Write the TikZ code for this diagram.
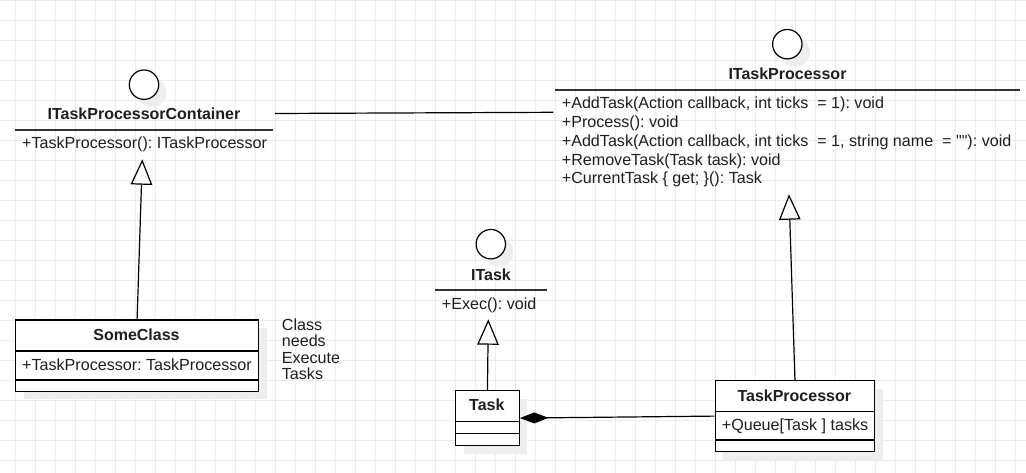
\documentclass[tikz,border=0pt]{standalone}
\usepackage{fontspec}
\setmainfont{Liberation Sans}
\usetikzlibrary{arrows.meta,shadows}
\definecolor{gridc}{RGB}{236,236,236}
\definecolor{shad}{RGB}{238,238,238}
\definecolor{txt}{RGB}{30,30,30}
\definecolor{hdrc}{RGB}{50,50,50}
\frenchspacing
\begin{document}
\begin{tikzpicture}[x=1pt,y=-1pt,
  lw/.style={line width=1.2pt, draw=black},
  shadowed/.style={drop shadow={shadow xshift=8pt, shadow yshift=-8pt, fill=shad, opacity=1}},
  classbox/.style={lw, fill=white, inner sep=0pt, anchor=north west, shadowed},
  circ/.style={circle, lw, fill=white, inner sep=0pt, minimum size=29.4pt, shadowed},
  hdr/.style={line width=1.5pt, draw=hdrc},
  txtbase/.style={inner sep=0pt, text=txt, font=\fontsize{16.1}{19}\selectfont},
  ttl/.style={txtbase, font=\fontsize{16}{19}\selectfont\bfseries, anchor=base},
  attr/.style={txtbase, anchor=base west},
  area/.style={inner sep=0pt, minimum height=20pt},
  inh/.style={lw, -{Triangle[open, length=25.4pt, width=21.5pt]}},
  comp/.style={lw, {Diamond[length=28.6pt, width=11pt]}-},
  assoc/.style={lw}
]
\fill[white] (0,0) rectangle (1026,473);
\useasboundingbox (0,0) rectangle (1026,473);
% grid
\foreach \x in {15,35,...,1015} \draw[gridc, line width=0.9pt] (\x,0) -- (\x,473);
\foreach \y in {0,20,...,460} \draw[gridc, line width=0.9pt] (0,\y) -- (1026,\y);

% ---------- ITaskProcessorContainer (interface) ----------
\node[circ] (itpc-c) at (144,84.7) {};
\node[ttl] (itpc-t) at (144,120) {ITaskProcessorContainer};
\draw[hdr] (15,130) -- (273,130);
\node[attr] (itpc-a) at (22,149) {+TaskProcessor(): ITaskProcessor};
\node[area, minimum width=260pt] (itpc) at (145,113.5) {};
\coordinate (itpc-apex) at (142.3,159.3);

% ---------- ITaskProcessor (interface) ----------
\node[circ] (itp-c) at (787.3,44.2) {};
\node[ttl] (itp-t) at (787.5,80) {ITaskProcessor};
\draw[hdr] (555,90) -- (1020,90);
\node[attr] (itp-a1) at (561.7,108.7) {+AddTask(Action callback, int ticks~ = 1): void};
\node[attr] (itp-a2) at (561.7,127.5) {+Process(): void};
\node[attr] (itp-a3) at (561.7,146.3) {+AddTask(Action callback, int ticks~ = 1, string name~ = \textquotedbl\textquotedbl): void};
\node[attr] (itp-a4) at (561.7,165.1) {+RemoveTask(Task task): void};
\node[attr] (itp-a5) at (561.7,183.9) {+CurrentTask \{ get; \}(): Task};
\node[area, minimum width=466.5pt] (itp) at (786.75,112.3) {};
\coordinate (itp-apex) at (789,194.3);

% ---------- ITask (interface) ----------
\node[circ] (itask-c) at (490.8,244.2) {};
\node[ttl] (itask-t) at (491,280) {ITask};
\draw[hdr] (435,290) -- (546.7,290);
\node[attr] (itask-a) at (441.7,309.3) {+Exec(): void};
\coordinate (itask-apex) at (488.3,319.3);

% ---------- SomeClass ----------
\node[classbox, minimum width=243pt, minimum height=71.4pt] (sc) at (15,319.3) {};
\draw[lw] (15,351) -- (258,351);
\draw[lw] (15,380) -- (258,380);
\node[ttl] (sc-t) at (136.5,341) {SomeClass};
\node[attr] (sc-a) at (22,370.7) {+TaskProcessor: TaskProcessor};

% note
\node[attr] (note1) at (281.7,330.7) {Class};
\node[attr] (note2) at (281.7,346.9) {needs};
\node[attr] (note3) at (281.7,363.1) {Execute};
\node[attr] (note4) at (281.7,379.3) {Tasks};

% ---------- Task ----------
\node[classbox, minimum width=63.7pt, minimum height=55pt] (task) at (455,390) {};
\draw[lw] (455,421.3) -- (518.7,421.3);
\draw[lw] (455,433.3) -- (518.7,433.3);
\node[ttl] (task-t) at (486.8,410.7) {Task};

% ---------- TaskProcessor ----------
\node[classbox, minimum width=159.3pt, minimum height=71pt] (tp) at (714.7,380) {};
\draw[lw] (714.7,411.3) -- (874,411.3);
\draw[lw] (714.7,440) -- (874,440);
\node[ttl] (tp-t) at (794.3,401) {TaskProcessor};
\node[attr] (tp-a) at (721.7,430) {+Queue[Task ] tasks};

% ---------- connectors ----------
\draw[assoc] (itpc.east) -- (itp.west);
\draw[inh] (sc.north) -- (itpc-apex);
\draw[inh] (tp.north) -- (itp-apex);
\draw[inh] (task.north) -- (itask-apex);
\draw[comp] (task.east) -- (tp.west);
\end{tikzpicture}
\end{document}
